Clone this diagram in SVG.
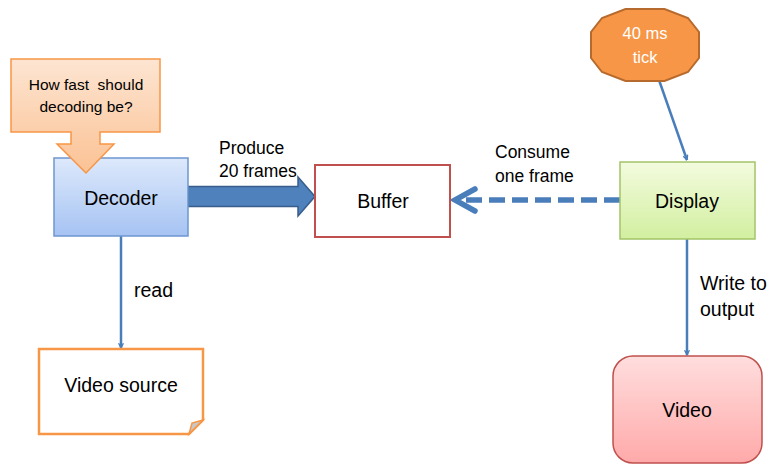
<svg xmlns="http://www.w3.org/2000/svg" width="777" height="464" viewBox="0 0 777 464">
  <defs>
    <linearGradient id="gBlue" x1="0" y1="0" x2="0" y2="1">
      <stop offset="0" stop-color="#DDE9FB"/>
      <stop offset="1" stop-color="#A6C3F3"/>
    </linearGradient>
    <linearGradient id="gGreen" x1="0" y1="0" x2="0" y2="1">
      <stop offset="0" stop-color="#F3FBDE"/>
      <stop offset="1" stop-color="#D2EFA0"/>
    </linearGradient>
    <linearGradient id="gOrange" x1="0" y1="0" x2="0" y2="1">
      <stop offset="0" stop-color="#FDE5D2"/>
      <stop offset="1" stop-color="#FBC294"/>
    </linearGradient>
    <linearGradient id="gPink" x1="0" y1="0" x2="0" y2="1">
      <stop offset="0" stop-color="#FFDEDE"/>
      <stop offset="1" stop-color="#FFA9A9"/>
    </linearGradient>
    <marker id="head" viewBox="0 0 10 10" refX="9" refY="5" markerWidth="6" markerHeight="6" orient="auto" markerUnits="userSpaceOnUse">
      <path d="M1,1 L9,5 L1,9" fill="none" stroke="#4A7EBB" stroke-width="2.2" stroke-linejoin="miter"/>
    </marker>
  </defs>
  <style>
    text { font-family: "Liberation Sans", Arial, sans-serif; fill: #000; }
    .node { font-size: 19.5px; text-anchor: middle; }
    .lbl { font-size: 17.5px; }
    .side { font-size: 19.5px; }
    .wire { fill: none; stroke: #4A7EBB; stroke-width: 2.5; }
  </style>

  <rect width="777" height="464" fill="#FFFFFF"/>

  <!-- connectors -->
  <g id="connectors">
    <!-- Decoder -> Buffer (block arrow) -->
    <path d="M188,186.5 H298 V177 L315,196.5 L298,216 V206.5 H188 Z" fill="#4F81BD" stroke="#385D8A" stroke-width="1.5"/>
    <!-- Display -> Buffer (dashed) -->
    <line x1="620" y1="200" x2="462" y2="200" stroke="#4A7EBB" stroke-width="5.5" stroke-dasharray="16,7"/>
    <path d="M475,189 L455,200 L475,211" fill="none" stroke="#4A7EBB" stroke-width="5.5" stroke-linecap="round" stroke-linejoin="miter"/>
    <!-- tick -> Display -->
    <line class="wire" x1="659" y1="80" x2="687" y2="160" marker-end="url(#head)"/>
    <!-- Decoder -> Video source -->
    <line class="wire" x1="121" y1="236" x2="121" y2="348" marker-end="url(#head)"/>
    <!-- Display -> Video -->
    <line class="wire" x1="687" y1="239" x2="687" y2="355" marker-end="url(#head)"/>
    <text class="lbl" x="219" y="154">Produce</text>
    <text class="lbl" x="219" y="177">20 frames</text>
    <text class="lbl" x="495" y="158">Consume</text>
    <text class="lbl" x="495" y="182">one frame</text>
    <text class="side" x="134" y="297">read</text>
    <text class="side" x="700" y="290">Write to</text>
    <text class="side" x="700" y="316">output</text>
  </g>

  <g id="decoder">
    <rect x="54" y="158" width="134" height="78" fill="url(#gBlue)" stroke="#6D97CF" stroke-width="1.5"/>
    <text class="node" x="121" y="205">Decoder</text>
  </g>

  <!-- question callout, its pointer overlaps the Decoder box -->
  <g id="callout">
    <path d="M11,59 H160 V132 H100 V144 H114 L86,173 L57,144 H71 V132 H11 Z" fill="url(#gOrange)" stroke="#F79646" stroke-width="1.5"/>
    <text x="86" y="90" text-anchor="middle" font-size="15.5" xml:space="preserve">How fast  should</text>
    <text x="86" y="112" text-anchor="middle" font-size="15.5">decoding be?</text>
  </g>

  <g id="buffer">
    <rect x="315" y="165" width="135" height="72" fill="#FFFFFF" stroke="#C0504D" stroke-width="2"/>
    <text class="node" x="383" y="208">Buffer</text>
  </g>

  <g id="display">
    <rect x="620" y="162" width="135" height="77" fill="url(#gGreen)" stroke="#A3C46A" stroke-width="1.5"/>
    <text class="node" x="687" y="208">Display</text>
  </g>

  <g id="tick">
    <polygon points="625.5,9 664.5,9 688,18 699,32 699,58 688,72 664.5,81 625.5,81 602,72 591,58 591,32 602,18" fill="#F79646" stroke="#B76A2D" stroke-width="2"/>
    <text x="645" y="39" text-anchor="middle" font-size="16.5" style="fill:#FFFFFF">40 ms</text>
    <text x="645" y="63" text-anchor="middle" font-size="16.5" style="fill:#FFFFFF">tick</text>
  </g>

  <g id="video-source">
    <path d="M39,349 H203 V420 L189,434 H39 Z" fill="#FFFFFF" stroke="#F79646" stroke-width="2.5"/>
    <path d="M189,434 L192,423 L203,420 Z" fill="#C8C8C8" stroke="#F79646" stroke-width="1.5"/>
    <text class="node" x="121" y="392">Video source</text>
  </g>

  <g id="video">
    <rect x="613" y="356" width="149" height="107" rx="20" ry="20" fill="url(#gPink)" stroke="#C0504D" stroke-width="1.5"/>
    <text class="node" x="687" y="417">Video</text>
  </g>
</svg>
